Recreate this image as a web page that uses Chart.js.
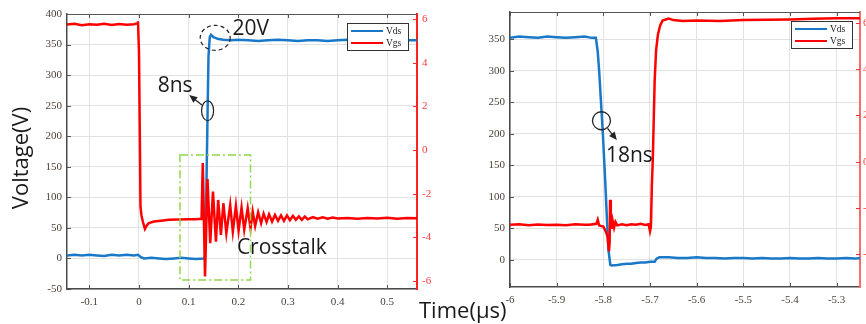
<!DOCTYPE html>
<html><head><meta charset="utf-8">
<script src="https://cdn.jsdelivr.net/npm/chart.js@4.4.1/dist/chart.umd.min.js"></script>
<style>
html,body{margin:0;padding:0;background:#fff;overflow:hidden;width:866px;height:324px;}
#ca{position:absolute;left:0;top:0;}
#cb{position:absolute;left:470px;top:0;}
.lbl{position:absolute;font-family:'Open Sans';color:#1a1a1a;white-space:nowrap;}
</style></head><body>
<canvas id="ca" width="445" height="324"></canvas>
<canvas id="cb" width="430" height="324"></canvas>
<div class="lbl" style="left:419px;top:298px;font-size:22px;line-height:22px;">Time(μs)</div>
<script>
// ---------- DATA: left panel (turn-on, crosstalk) ----------
const tVdsL = [-0.145,-0.13,-0.115,-0.1,-0.085,-0.07,-0.055,-0.04,-0.025,-0.01,-0.002,0.004,0.01,0.025,0.04,0.055,0.07,0.085,0.1,0.115,0.13,0.133,0.1355,0.138,0.14,0.1425,0.145,0.15,0.16,0.17,0.185,0.2,0.22,0.24,0.26,0.28,0.3,0.32,0.34,0.36,0.38,0.4,0.42,0.44,0.46,0.48,0.5,0.52,0.54,0.56];
const vVdsL = [5,6,5,6,5,4,6,5,6,5,6,2,0,1,0,-1,0,1,0,-1,0,3,100,230,330,362,366,362,359,358,357,358,357,356,357,358,357,356,357,357,356,357,358,357,356,357,357,356,357,357];
const tVgsL = [-0.145,-0.13,-0.115,-0.1,-0.085,-0.07,-0.055,-0.04,-0.025,-0.01,-0.004,-0.002,0.0,0.002,0.003,0.005,0.008,0.012,0.016,0.02,0.03,0.045,0.06,0.08,0.1,0.115,0.126,
  0.1285,0.133,0.138,0.1435,0.149,0.155,0.1595,0.165,0.17,0.176,0.1837,0.189,0.1952,0.2006,0.2066,0.212,0.219,0.2247,0.229,0.234,0.24,0.246,0.251,0.257,0.262,0.268,0.274,0.28,0.286,0.292,0.298,0.304,0.31,0.316,0.322,0.328,0.334,0.34,0.35,0.36,0.37,0.38,0.39,0.4,0.42,0.44,0.46,0.48,0.5,0.52,0.54,0.56];
const vVgsL = [5.75,5.78,5.72,5.76,5.74,5.78,5.73,5.77,5.74,5.76,5.8,5.9,4.5,0,-2.6,-3.0,-3.3,-3.62,-3.45,-3.35,-3.28,-3.24,-3.2,-3.19,-3.17,-3.17,-3.15,
  -0.6,-5.8,-1.33,-4.27,-1.91,-4.2,-2.29,-3.89,-2.44,-3.82,-2.52,-3.74,-2.56,-3.7,-2.63,-3.66,-2.67,-3.59,-2.82,-3.48,-2.85,-3.35,-2.92,-3.3,-2.95,-3.28,-2.98,-3.25,-3.0,-3.25,-3.0,-3.22,-3.02,-3.2,-3.04,-3.2,-3.05,-3.18,-3.08,-3.15,-3.08,-3.15,-3.1,-3.14,-3.12,-3.15,-3.12,-3.14,-3.11,-3.15,-3.12,-3.13];
const xTicksL = [-0.1,0,0.1,0.2,0.3,0.4,0.5];
const xLabelsL = ['-0.1','0','0.1','0.2','0.3','0.4','0.5'];
const yTicksL = [-50,0,50,100,150,200,250,300,350,400];
const y2TicksL = [-6,-4,-2,0,2,4,6];

// ---------- DATA: right panel (turn-off) ----------
const tVdsR = [-6,-5.98,-5.96,-5.94,-5.92,-5.9,-5.88,-5.86,-5.84,-5.825,-5.816,-5.812,-5.809,-5.805,-5.801,-5.799,-5.795,-5.792,-5.789,-5.785,-5.782,-5.77,-5.76,-5.75,-5.74,-5.73,-5.72,-5.71,-5.7,-5.69,-5.686,-5.68,-5.66,-5.64,-5.62,-5.6,-5.58,-5.56,-5.54,-5.52,-5.5,-5.48,-5.46,-5.44,-5.42,-5.4,-5.38,-5.36,-5.34,-5.32,-5.3,-5.28,-5.26,-5.25];
const vVdsR = [352,354,353,352,354,353,352,353,354,352,352,330,300,250,200,170,110,60,16,-8,-9,-8,-7,-6,-6,-5,-4,-4,-3,-3,2,4,4,3,3,4,3,3,2,3,3,2,3,2,2,3,2,2,3,2,2,3,2,3];
const tVgsR = [-6,-5.98,-5.96,-5.94,-5.92,-5.9,-5.88,-5.86,-5.84,-5.83,-5.815,-5.812,-5.809,-5.8,-5.795,-5.791,-5.788,-5.7865,-5.7855,-5.784,-5.782,-5.78,-5.777,-5.774,-5.77,-5.76,-5.75,-5.74,-5.73,-5.72,-5.71,-5.703,-5.7,-5.698,-5.696,-5.694,-5.69,-5.687,-5.683,-5.678,-5.673,-5.66,-5.65,-5.63,-5.6,-5.55,-5.5,-5.45,-5.4,-5.35,-5.3,-5.25];
const vVgsR = [-2.72,-2.7,-2.74,-2.71,-2.73,-2.72,-2.74,-2.7,-2.72,-2.72,-2.68,-2.5,-2.75,-2.8,-3.0,-3.22,-3.87,-3.5,-1.64,-2.3,-2.9,-2.55,-2.85,-2.6,-2.75,-2.7,-2.74,-2.7,-2.72,-2.68,-2.73,-2.7,-3.0,-2.8,-1,0.1,3.5,4.8,5.5,5.9,6.1,6.19,6.12,6.08,6.1,6.08,6.12,6.14,6.15,6.18,6.2,6.2];
const xTicksR = [-6,-5.9,-5.8,-5.7,-5.6,-5.5,-5.4,-5.3];
const xLabelsR = ['-6','-5.9','-5.8','-5.7','-5.6','-5.5','-5.4','-5.3'];
const yTicksR = [0,50,100,150,200,250,300,350];
const y2TicksR = [-4,-2,0,2,4,6];

const seriesNames = ['Vds','Vgs'];
const BLUE = '#1a78c8', RED = '#ff0000';

function pts(t, v){ return t.map((x,i)=>({x:x, y:v[i]})); }

Chart.defaults.font.family = "'Liberation Serif', serif";
Chart.defaults.font.size = 11;
Chart.defaults.animation = false;

function makeScales(o){
  const tf = (arr)=> (s)=>{ s.ticks = arr.map(v=>({value:v})); };
  return {
    x: {type:'linear', min:o.xmin, max:o.xmax, afterBuildTicks: tf(o.xTicks),
        afterFit: s=>{ s.height = o.xh; },
        grid:{color:'#e2e2e2', lineWidth:1, drawTicks:false},
        border:{display:true, color:'#4a4a4a', width:1.5},
        ticks:{padding:7, color:'#4a4238', autoSkip:false, maxRotation:0, callback:(v,i)=>o.xLabels[i]}},
    y: {type:'linear', position:'left', min:o.ymin, max:o.ymax, afterBuildTicks: tf(o.yTicks),
        afterFit: s=>{ s.width = o.yw; },
        grid:{color:'#e2e2e2', lineWidth:1, drawTicks:false},
        border:{display:true, color:'#4a4a4a', width:1.5},
        ticks:{padding:5, color:'#4a4238', autoSkip:false, callback:(v)=>String(v)}},
    y2: {type:'linear', position:'right', min:o.y2min, max:o.y2max, afterBuildTicks: tf(o.y2Ticks),
        afterFit: s=>{ s.width = o.y2w; },
        grid:{drawOnChartArea:false, drawTicks:false},
        border:{display:true, color:o.y2border, width:2},
        ticks:{padding:o.y2pad, color:'#ff3b3b', autoSkip:false, callback:(v)=>String(v)}}
  };
}

function frameTicks(){
  return {
    id:'frameTicks',
    afterDatasetsDraw(chart){
      const {ctx, chartArea:a, scales} = chart; const L = 4;
      ctx.save();
      ctx.lineWidth = 1; ctx.strokeStyle = '#555';
      ctx.beginPath(); ctx.moveTo(a.left, a.top+0.5); ctx.lineTo(a.right, a.top+0.5); ctx.stroke();
      ctx.beginPath();
      scales.x.ticks.forEach(t=>{ const p = Math.round(scales.x.getPixelForValue(t.value))+0.5;
        ctx.moveTo(p, a.bottom); ctx.lineTo(p, a.bottom-L); ctx.moveTo(p, a.top); ctx.lineTo(p, a.top+L); });
      scales.y.ticks.forEach(t=>{ const p = Math.round(scales.y.getPixelForValue(t.value))+0.5;
        ctx.moveTo(a.left, p); ctx.lineTo(a.left+L, p); });
      ctx.stroke();
      ctx.strokeStyle = '#ff2a2a'; ctx.beginPath();
      scales.y2.ticks.forEach(t=>{ const p = Math.round(scales.y2.getPixelForValue(t.value))+0.5;
        ctx.moveTo(a.right, p); ctx.lineTo(a.right-L, p); });
      ctx.stroke();
      ctx.restore();
    }
  };
}

function legendBox(offR, offT){
  return {
    id:'legendBox',
    afterDraw(chart){
      const {ctx, chartArea:a} = chart;
      const w = 61, h = 27, x = a.right - offR - w, y = a.top + offT;
      ctx.save();
      ctx.fillStyle = '#fff'; ctx.fillRect(x, y, w, h);
      ctx.strokeStyle = '#333'; ctx.lineWidth = 1; ctx.strokeRect(x+0.5, y+0.5, w, h);
      const cols = [BLUE, RED];
      ctx.font = "9.5px 'Liberation Serif'"; ctx.textBaseline = 'middle'; ctx.fillStyle = '#222';
      seriesNames.forEach((n,i)=>{
        const yy = y + 8 + i*12;
        ctx.strokeStyle = cols[i]; ctx.lineWidth = 2;
        ctx.beginPath(); ctx.moveTo(x+4, yy); ctx.lineTo(x+36, yy); ctx.stroke();
        ctx.fillText(n, x+39, yy+0.5);
      });
      ctx.restore();
    }
  };
}

function arrow(ctx, x1, y1, x2, y2){
  const ang = Math.atan2(y2-y1, x2-x1), hl = 8, hw = 3.5;
  ctx.beginPath(); ctx.moveTo(x1,y1); ctx.lineTo(x2 - Math.cos(ang)*hl*0.8, y2 - Math.sin(ang)*hl*0.8); ctx.stroke();
  ctx.beginPath(); ctx.moveTo(x2,y2);
  ctx.lineTo(x2 - Math.cos(ang)*hl - Math.sin(ang)*hw, y2 - Math.sin(ang)*hl + Math.cos(ang)*hw);
  ctx.lineTo(x2 - Math.cos(ang)*hl + Math.sin(ang)*hw, y2 - Math.sin(ang)*hl - Math.cos(ang)*hw);
  ctx.closePath(); ctx.fill();
}

// annotation anchors in data units
const annL = {
  ell20: {x:0.1535, y:361}, txt20: {x:0.1885, y:365.6},
  txt8: {x:0.0376, y:272.8}, ell8: {x:0.1382, y:241.7},
  arr8: {x1:0.1268, y1:251, x2:0.1012, y2:267.4},
  box: {x1:0.0825, y1:169.2, x2:0.2247, y2:-35.4},
  txtCt: {x:0.1972, y:7.2}
};
const annR = {
  circ: {x:-5.804, y:220.6}, arr: {x1:-5.791, y1:208.6, x2:-5.771, y2:190}, txt: {x:-5.7945, y:155.2}
};

const annotLeft = {
  id:'annotLeft',
  afterDraw(chart){
    const {ctx, scales:{x, y}} = chart; const X = v=>x.getPixelForValue(v), Y = v=>y.getPixelForValue(v);
    ctx.save();
    ctx.strokeStyle = '#8fd84a'; ctx.lineWidth = 1.5; ctx.setLineDash([8,3,2,3]);
    const b = annL.box; ctx.strokeRect(X(b.x1), Y(b.y1), X(b.x2)-X(b.x1), Y(b.y2)-Y(b.y1));
    ctx.strokeStyle = '#222'; ctx.lineWidth = 1.2; ctx.setLineDash([4,3]);
    ctx.beginPath(); ctx.ellipse(X(annL.ell20.x), Y(annL.ell20.y), 15, 12.5, 0, 0, Math.PI*2); ctx.stroke();
    ctx.setLineDash([]);
    ctx.beginPath(); ctx.ellipse(X(annL.ell8.x), Y(annL.ell8.y), 6, 10, 0, 0, Math.PI*2); ctx.stroke();
    ctx.fillStyle = '#222'; ctx.lineWidth = 1.3;
    const a = annL.arr8; arrow(ctx, X(a.x1), Y(a.y1), X(a.x2), Y(a.y2));
    ctx.font = "21px 'Open Sans'"; ctx.textBaseline = 'alphabetic'; ctx.fillStyle = '#1a1a1a';
    ctx.fillText('20V', X(annL.txt20.x), Y(annL.txt20.y));
    ctx.fillText('8ns', X(annL.txt8.x), Y(annL.txt8.y));
    ctx.fillText('Crosstalk', X(annL.txtCt.x), Y(annL.txtCt.y));
    ctx.translate(28, 158); ctx.rotate(-Math.PI/2);
    ctx.font = "22px 'Open Sans'"; ctx.textAlign = 'center';
    ctx.fillText('Voltage(V)', 0, 0);
    ctx.restore();
  }
};
const annotRight = {
  id:'annotRight',
  afterDraw(chart){
    const {ctx, scales:{x, y}} = chart; const X = v=>x.getPixelForValue(v), Y = v=>y.getPixelForValue(v);
    ctx.save();
    ctx.strokeStyle = '#222'; ctx.fillStyle = '#222'; ctx.lineWidth = 1.3;
    ctx.beginPath(); ctx.arc(X(annR.circ.x), Y(annR.circ.y), 9, 0, Math.PI*2); ctx.stroke();
    const a = annR.arr; arrow(ctx, X(a.x1), Y(a.y1), X(a.x2), Y(a.y2));
    ctx.font = "21px 'Open Sans'"; ctx.fillStyle = '#1a1a1a';
    ctx.fillText('18ns', X(annR.txt.x), Y(annR.txt.y));
    ctx.restore();
  }
};

function datasets(tv, vv, tg, vg){
  return [
    {label:seriesNames[0], data:pts(tv,vv), yAxisID:'y', borderColor:BLUE, borderWidth:2.5, pointRadius:0, tension:0, order:2},
    {label:seriesNames[1], data:pts(tg,vg), yAxisID:'y2', borderColor:RED, borderWidth:2.5, pointRadius:0, tension:0, order:1}
  ];
}

new Chart(document.getElementById('ca'), {
  type:'line',
  data:{datasets:datasets(tVdsL, vVdsL, tVgsL, vVgsL)},
  options:{
    responsive:false, devicePixelRatio:1,
    layout:{padding:{top:14, left:0, right:0, bottom:0}},
    plugins:{legend:{display:false}, tooltip:{enabled:false}},
    scales: makeScales({xmin:-0.145, xmax:0.56, xTicks:xTicksL, xLabels:xLabelsL, xh:35,
      ymin:-50, ymax:400, yTicks:yTicksL, yw:67,
      y2min:-6.37, y2max:6.23, y2Ticks:y2TicksL, y2w:28, y2pad:5, y2border:'#ff2020'})
  },
  plugins:[frameTicks(), annotLeft, legendBox(9, 9)]
});

new Chart(document.getElementById('cb'), {
  type:'line',
  data:{datasets:datasets(tVdsR, vVdsR, tVgsR, vVgsR)},
  options:{
    responsive:false, devicePixelRatio:1,
    layout:{padding:{top:12, left:0, right:0, bottom:0}},
    plugins:{legend:{display:false}, tooltip:{enabled:false}},
    scales: makeScales({xmin:-6.0, xmax:-5.25, xTicks:xTicksR, xLabels:xLabelsR, xh:37,
      ymin:-43, ymax:393, yTicks:yTicksR, yw:40,
      y2min:-5.41, y2max:6.47, y2Ticks:y2TicksR, y2w:40, y2pad:3, y2border:'#ff6a6a'})
  },
  plugins:[frameTicks(), annotRight, legendBox(8, 9)]
});
</script>
</body></html>
